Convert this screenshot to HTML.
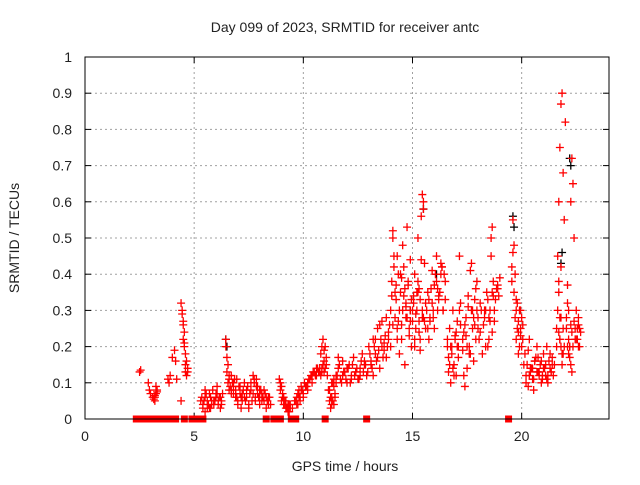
<!DOCTYPE html>
<html><head><meta charset="utf-8"><style>
body{margin:0;background:#fff;}
svg text{font-family:"Liberation Sans",sans-serif;font-size:14px;fill:#222;}
</style></head><body>
<svg id="chart" width="640" height="480" xmlns="http://www.w3.org/2000/svg">
<g id="grid"></g>
<g id="axes"></g>
<g id="marks"></g>
<text x="345" y="32" text-anchor="middle">Day 099 of 2023, SRMTID for receiver antc</text>
<text x="345" y="471" text-anchor="middle">GPS time / hours</text>
<text x="19" y="238" text-anchor="middle" transform="rotate(-90 19 238)">SRMTID / TECUs</text>
<rect x="85" y="57" width="524" height="362" fill="none" stroke="#000" stroke-width="1"/>
</svg>
<script>
const xTicks=[0,5,10,15,20];
const yTicks=[0,0.1,0.2,0.3,0.4,0.5,0.6,0.7,0.8,0.9,1];
const yTickLabels=["0","0.1","0.2","0.3","0.4","0.5","0.6","0.7","0.8","0.9","1"];
const hours=[2.5,2.55,2.9,2.95,3.0,3.1,3.15,3.2,3.25,3.3,3.2,
3.8,3.85,3.9,4.0,4.1,4.15,4.2,4.4,4.45,4.5,4.5,4.55,4.6,4.6,4.65,4.7,4.4,
5.3,5.4,5.5,5.6,5.7,5.8,5.9,6.0,6.1,6.2,6.3,5.5,5.75,6.05,6.25,
6.45,6.45,6.5,6.5,6.55,6.6,6.7,6.8,6.9,7.0,7.1,7.2,7.3,7.4,7.5,7.6,7.7,7.8,7.9,8.0,8.1,8.2,8.3,8.4,8.5,7.75,7.85,8.0,6.95,7.15,
8.9,8.95,9.0,9.1,9.2,9.3,9.4,9.5,9.6,9.7,9.8,9.9,10.0,10.1,10.2,10.3,10.4,10.5,10.6,10.7,
10.8,10.85,10.9,10.95,11.0,11.1,11.15,11.2,11.25,11.3,11.35,11.4,11.45,11.5,
11.6,11.7,11.8,11.9,12.0,12.1,12.2,12.3,12.4,12.5,12.6,12.7,12.8,12.9,13.0,13.1,13.2,13.3,13.4,13.5,13.6,13.7,13.8,13.9,
14.0,14.05,14.1,14.15,14.2,14.25,14.3,14.35,14.4,14.45,14.5,14.55,14.6,14.65,14.7,14.75,14.8,14.85,14.9,14.95,
15.0,15.05,15.1,15.15,15.2,15.25,15.3,15.35,15.4,15.45,15.5,15.55,15.6,15.45,15.35,15.25,
15.7,15.8,15.9,16.0,16.1,16.2,16.3,16.4,16.5,15.75,15.95,16.15,16.35,
16.6,16.65,16.7,16.75,16.8,16.85,16.9,16.95,17.0,17.05,17.1,17.15,17.2,
17.3,17.35,17.4,17.45,17.5,17.55,17.6,17.65,17.7,17.75,17.8,17.85,17.9,17.95,
18.0,18.1,18.2,18.3,18.4,18.5,18.55,18.6,18.65,18.7,18.75,18.8,18.9,19.0,18.6,18.65,18.35,18.45,
19.55,19.6,19.6,19.65,19.7,19.75,19.8,19.85,19.9,19.95,20.0,20.05,20.1,
20.2,20.3,20.4,20.5,20.6,20.7,20.8,20.9,21.0,21.1,21.2,21.3,21.4,21.5,20.35,20.55,20.75,20.95,21.15,21.35,
21.6,21.65,21.7,21.75,21.8,21.85,21.9,21.95,22.0,21.7,21.75,21.8,21.85,21.75,
22.05,22.1,22.15,22.2,22.25,22.3,22.35,22.4,22.45,22.5,22.55,22.6,22.65,22.2,22.25,22.3,22.1,22.15];
const values=[0.13,0.135,0.10,0.08,0.07,0.06,0.055,0.065,0.09,0.075,0.05,
0.11,0.10,0.12,0.17,0.19,0.16,0.11,0.32,0.30,0.26,0.22,0.2,0.15,0.13,0.12,0.14,0.05,
0.05,0.04,0.06,0.03,0.07,0.05,0.04,0.06,0.05,0.03,0.07,0.08,0.03,0.09,0.04,
0.22,0.2,0.17,0.13,0.1,0.12,0.08,0.09,0.06,0.04,0.07,0.05,0.1,0.06,0.03,0.08,0.12,0.06,0.09,0.04,0.07,0.05,0.03,0.06,0.04,0.1,0.11,0.08,0.11,0.03,
0.11,0.08,0.05,0.04,0.03,0.02,0.04,0.03,0.05,0.04,0.06,0.08,0.07,0.09,0.1,0.11,0.12,0.13,0.14,0.13,
0.18,0.2,0.22,0.16,0.14,0.12,0.08,0.05,0.03,0.06,0.1,0.04,0.07,0.12,
0.14,0.11,0.16,0.13,0.1,0.15,0.12,0.17,0.13,0.11,0.14,0.18,0.15,0.12,0.2,0.16,0.22,0.18,0.25,0.14,0.27,0.21,0.17,0.24,
0.3,0.38,0.52,0.45,0.28,0.33,0.22,0.4,0.18,0.35,0.26,0.48,0.42,0.15,0.31,0.53,0.37,0.23,0.44,0.2,
0.27,0.34,0.4,0.25,0.3,0.5,0.36,0.22,0.56,0.62,0.6,0.43,0.32,0.28,0.19,0.35,
0.35,0.28,0.41,0.25,0.45,0.33,0.4,0.3,0.38,0.22,0.3,0.36,0.42,
0.2,0.13,0.25,0.1,0.18,0.3,0.15,0.22,0.12,0.27,0.17,0.45,0.32,
0.19,0.24,0.09,0.28,0.14,0.34,0.2,0.41,0.43,0.3,0.16,0.26,0.22,0.38,
0.25,0.32,0.18,0.28,0.35,0.22,0.3,0.5,0.53,0.38,0.27,0.33,0.36,0.39,0.45,0.24,0.3,0.2,
0.42,0.55,0.46,0.35,0.28,0.22,0.32,0.18,0.3,0.25,0.2,0.26,0.15,
0.12,0.09,0.14,0.11,0.16,0.2,0.13,0.1,0.18,0.15,0.12,0.14,0.17,0.15,0.22,0.08,0.17,0.11,0.2,0.13,
0.25,0.45,0.6,0.75,0.87,0.9,0.68,0.55,0.82,0.35,0.28,0.2,0.15,0.22,
0.25,0.37,0.3,0.2,0.6,0.72,0.65,0.5,0.25,0.3,0.22,0.28,0.25,0.2,0.15,0.13,0.32,0.18];
const hours2=[3.2,3.25,3.3,4.45,4.5,4.55,4.6,4.65,4.7,4.55,
5.35,5.45,5.55,5.65,5.75,5.85,5.95,6.05,6.15,6.25,5.4,5.6,5.8,6.0,6.2,5.5,5.7,5.9,6.1,
6.55,6.6,6.65,6.7,6.75,6.8,6.85,6.9,6.95,7.05,7.15,7.25,7.35,7.45,7.55,7.65,7.75,7.85,7.95,8.05,8.15,8.25,8.35,8.45,
6.6,6.7,6.8,6.9,7.0,7.1,7.2,7.3,7.4,7.5,7.6,7.7,7.8,7.9,8.0,8.1,8.2,8.3,8.4,
8.95,9.0,9.05,9.1,9.15,9.2,9.25,9.3,9.35,9.4,9.05,9.15,9.25,9.35,
9.65,9.7,9.75,9.8,9.85,9.9,9.95,10.05,10.15,10.25,10.35,10.45,10.55,10.65,10.75,9.75,9.85,10.0,10.2,10.4,10.6,
10.75,10.8,10.85,10.9,10.95,11.0,11.05,10.85,10.95,11.05,
11.2,11.25,11.3,11.35,11.4,11.45,11.3,11.4,11.5,
11.55,11.65,11.75,11.85,11.95,12.05,12.15,12.25,12.35,12.45,12.55,12.65,12.75,12.85,11.6,11.8,12.0,12.2,12.4,12.6,12.8,
12.95,13.05,13.15,13.25,13.35,13.45,13.55,13.65,13.75,13.85,13.95,13.1,13.3,13.5,13.7,13.9,13.2,13.4,13.6,13.8,
14.0,14.1,14.2,14.3,14.4,14.5,14.6,14.7,14.8,14.9,14.05,14.15,14.25,14.35,14.45,14.55,14.65,14.75,14.85,14.95,14.1,14.3,14.5,14.7,14.9,
15.0,15.1,15.2,15.3,15.4,15.5,15.6,15.05,15.15,15.25,15.35,15.45,15.55,15.1,15.3,15.5,
15.65,15.75,15.85,15.95,16.05,16.15,16.25,16.35,16.45,15.7,15.9,16.1,16.3,16.5,15.8,16.0,16.2,16.4,
16.6,16.7,16.8,16.9,17.0,17.1,17.2,16.65,16.75,16.85,16.95,17.05,17.15,
17.3,17.4,17.5,17.6,17.7,17.8,17.9,17.35,17.45,17.55,17.65,17.75,17.85,17.95,
18.0,18.05,18.15,18.25,18.35,18.45,18.55,18.65,18.75,18.85,18.95,18.1,18.3,18.5,18.7,18.9,
19.55,19.65,19.7,19.75,19.8,19.85,19.9,19.95,20.0,20.05,19.75,19.85,19.95,
20.15,20.25,20.35,20.45,20.55,20.65,20.75,20.85,20.95,21.05,21.15,21.25,21.35,21.45,20.2,20.4,20.6,20.8,21.0,21.2,21.4,20.3,20.5,20.7,20.9,21.1,21.3,
21.6,21.65,21.7,21.75,21.8,21.85,21.9,21.95,21.7,21.8,21.9,
22.05,22.15,22.25,22.35,22.45,22.55,22.6,22.7,22.1,22.2,22.3,22.4,22.5,22.6,22.65];
const values2=[0.06,0.07,0.08,0.29,0.27,0.24,0.18,0.16,0.13,0.21,
0.06,0.05,0.07,0.04,0.06,0.08,0.05,0.07,0.06,0.05,0.03,0.05,0.04,0.07,0.06,0.02,0.03,0.05,0.04,
0.15,0.11,0.09,0.12,0.1,0.07,0.11,0.08,0.06,0.09,0.06,0.08,0.05,0.09,0.07,0.05,0.11,0.09,0.06,0.08,0.06,0.07,0.05,0.06,
0.08,0.07,0.1,0.07,0.05,0.09,0.07,0.06,0.08,0.04,0.1,0.07,0.05,0.07,0.06,0.05,0.08,0.06,0.04,
0.1,0.09,0.07,0.06,0.04,0.05,0.03,0.04,0.02,0.03,0.06,0.05,0.03,0.04,
0.05,0.06,0.07,0.08,0.06,0.09,0.08,0.1,0.09,0.11,0.12,0.13,0.12,0.14,0.13,0.04,0.05,0.06,0.08,0.1,0.12,
0.14,0.12,0.13,0.15,0.13,0.2,0.17,0.14,0.19,0.15,
0.08,0.06,0.1,0.05,0.09,0.06,0.04,0.11,0.1,
0.12,0.15,0.1,0.13,0.11,0.14,0.1,0.15,0.12,0.14,0.11,0.16,0.13,0.15,0.17,0.12,0.14,0.11,0.13,0.12,0.16,
0.13,0.18,0.14,0.2,0.16,0.19,0.22,0.17,0.23,0.2,0.26,0.15,0.22,0.26,0.19,0.22,0.12,0.17,0.2,0.28,
0.2,0.26,0.35,0.25,0.3,0.22,0.34,0.28,0.38,0.3,0.34,0.42,0.37,0.27,0.4,0.3,0.36,0.28,0.25,0.33,0.5,0.45,0.39,0.32,0.27,
0.3,0.22,0.35,0.27,0.44,0.58,0.25,0.32,0.29,0.38,0.33,0.3,0.27,0.2,0.24,0.28,
0.3,0.33,0.36,0.28,0.4,0.3,0.35,0.42,0.4,0.25,0.32,0.38,0.43,0.33,0.27,0.37,0.34,0.3,
0.22,0.15,0.2,0.12,0.24,0.2,0.26,0.17,0.2,0.14,0.23,0.2,0.3,
0.22,0.26,0.2,0.18,0.3,0.28,0.36,0.12,0.23,0.31,0.18,0.25,0.33,0.3,
0.28,0.22,0.3,0.26,0.2,0.33,0.27,0.35,0.3,0.36,0.34,0.24,0.3,0.28,0.34,0.37,
0.38,0.48,0.4,0.3,0.25,0.27,0.2,0.23,0.28,0.22,0.33,0.24,0.3,
0.18,0.15,0.12,0.14,0.11,0.17,0.13,0.15,0.12,0.14,0.11,0.16,0.13,0.12,0.1,0.13,0.16,0.12,0.14,0.1,0.15,0.19,0.14,0.13,0.16,0.12,0.18,
0.2,0.3,0.24,0.22,0.28,0.18,0.25,0.2,0.38,0.42,0.18,
0.28,0.22,0.26,0.2,0.22,0.25,0.2,0.24,0.2,0.17,0.24,0.27,0.22,0.26,0.2];
const blackHours=[6.45,6.5,14.9,15.5,16.1,19.6,19.65,21.8,22.2,22.25,21.85];
const blackValues=[0.22,0.2,0.3,0.58,0.4,0.56,0.53,0.43,0.72,0.7,0.46];
const zeroHours=[2.35,2.45,2.55,2.85,2.95,3.05,3.15,3.45,3.55,3.65,3.75,3.85,3.95,4.05,4.15,4.55,4.9,5.0,5.1,5.2,5.4,8.3,8.65,8.75,8.85,8.95,9.45,9.55,9.65,11.0,12.9,19.4];
const X0=85,X1=609,Y0=419,Y1=57;
const xs=h=>X0+h/24*(X1-X0);
const ys=v=>Y0-v*(Y0-Y1);
const NS="http://www.w3.org/2000/svg";
const grid=document.getElementById('grid'),axes=document.getElementById('axes'),marks=document.getElementById('marks');
function mk(t,a,p){const e=document.createElementNS(NS,t);for(const k in a)e.setAttribute(k,a[k]);p.appendChild(e);return e;}
xTicks.forEach(t=>{const x=xs(t);
 if(t>0){const g=mk('line',{x1:x,x2:x,y1:Y1,y2:Y0,stroke:'#a0a0a0','stroke-dasharray':'2,3'},grid);
 
 }
 mk('line',{x1:x,x2:x,y1:Y0,y2:Y0-6,stroke:'#000'},axes);
 mk('line',{x1:x,x2:x,y1:Y1,y2:Y1+6,stroke:'#000'},axes);
 const l=mk('text',{x:x,y:Y0+22,'text-anchor':'middle'},axes);l.textContent=t;
 
 });
yTicks.forEach((t,i)=>{const y=ys(t);
 if(t>0&&t<1){const g=mk('line',{x1:X0,x2:X1,y1:y,y2:y,stroke:'#a0a0a0','stroke-dasharray':'2,3'},grid);
 
 }
 mk('line',{x1:X0,x2:X0+6,y1:y,y2:y,stroke:'#000'},axes);
 mk('line',{x1:X1,x2:X1-6,y1:y,y2:y,stroke:'#000'},axes);
 const l=mk('text',{x:X0-13,y:y+5,'text-anchor':'end'},axes);l.textContent=yTickLabels[i];
 
 });
function cross(h,v,c,name){const x=xs(h),y=ys(v);
 const p=mk('path',{d:`M${x-4},${y}H${x+4}M${x},${y-4}V${y+4}`,stroke:c,'stroke-width':1.3,fill:'none'},marks);
 
 }
blackHours.forEach((h,i)=>cross(h,blackValues[i],'#000','black-point'));
hours.forEach((h,i)=>cross(h,values[i],'#ff0000','srmtid-point'));
hours2.forEach((h,i)=>cross(h,values2[i],'#ff0000','srmtid-point'));
zeroHours.forEach(h=>{const r=mk('rect',{x:xs(h)-3.5,y:Y0-3.5,width:7,height:7,fill:'#ff0000'},marks);
 
 });
</script>
</body></html>
